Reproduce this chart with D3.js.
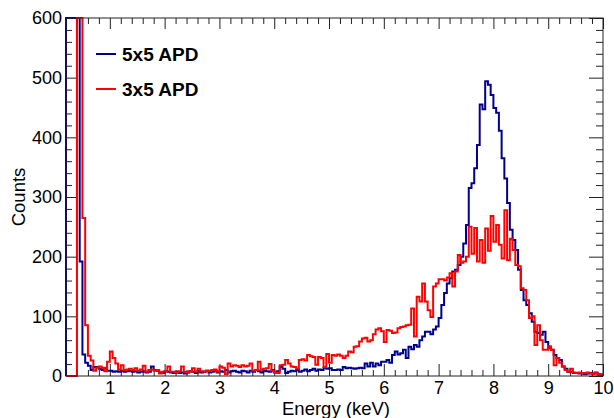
<!DOCTYPE html>
<html>
<head>
<meta charset="utf-8">
<script src="https://cdn.jsdelivr.net/npm/d3@7"></script>
<style>
  html, body { margin: 0; padding: 0; background: #fff; }
  svg text { font-family: "Liberation Sans", Arial, Helvetica, sans-serif; }
</style>
</head>
<body>
<svg id="chart" width="614" height="418"></svg>
<script>
// Energy spectra, 0.05 keV bins starting at 0.20 keV
const binWidth = 0.05;
const binLow = d3.range(196).map(i => +(0.2 + i * binWidth).toFixed(2));

// 5x5 APD counts per bin (rows of 1 keV)
const apd5x5 = [
  2400,2400,2400,2400,2400,192,36,22,17,10,15,15,12,10,13,9,9,7,8,7,
  9,7,8,9,7,8,6,7,8,6,7,16,10,9,6,5,8,7,6,5,
  7,5,6,4,6,8,7,5,8,6,7,9,6,7,9,6,8,7,10,6,
  8,9,7,6,9,8,6,9,7,10,8,6,9,8,7,10,6,8,15,12,
  5,7,9,8,10,7,9,11,8,10,12,9,11,10,14,12,13,10,10,11,
  10,15,13,14,13,12,13,14,13,21,16,22,16,21,18,24,24,27,22,35,
  41,36,38,44,30,49,45,52,49,60,66,74,74,70,78,83,97,119,139,155,
  164,175,178,186,200,222,253,315,323,348,387,455,447,494,488,471,449,441,411,365,
  331,290,245,228,211,178,144,127,119,105,91,74,72,69,74,57,47,44,35,30,
  27,16,12,7,7,5,5,4,4,3,4,5,4,6,3,2
];

// 3x5 APD counts per bin (rows of 1 keV)
const apd3x5 = [
  0,0,0,0,3000,3000,265,85,34,26,9,14,16,14,8,24,41,30,21,11,
  18,10,11,12,10,13,9,11,17,7,10,11,9,10,4,7,8,16,7,7,
  6,8,16,7,6,8,13,7,12,8,7,9,8,10,11,7,16,14,3,21,
  16,18,17,15,18,16,17,21,9,10,24,11,12,13,20,9,6,5,18,19,
  27,21,16,15,12,27,28,26,35,33,32,19,32,30,15,37,22,35,34,36,
  34,30,34,41,40,49,50,58,63,64,58,60,70,78,80,75,57,77,76,72,
  73,80,82,83,85,86,113,66,133,125,155,125,110,99,150,155,162,162,160,165,
  172,150,175,203,190,192,200,250,205,248,192,228,190,247,210,268,225,253,220,197,
  278,194,230,211,186,184,147,144,127,97,100,52,85,60,44,44,50,44,18,30,
  22,16,10,7,12,6,5,6,4,5,6,4,3,5,2,3
];

const seriesNames = ["5x5 APD", "3x5 APD"];
const seriesColors = ["#00008f", "#ff0000"];

const xMajorTicks = [1, 2, 3, 4, 5, 6, 7, 8, 9, 10];
const xMinorTicks = d3.range(1, 50).map(i => +(0.2 * i).toFixed(1)).filter(v => v > 0.2 && !Number.isInteger(v));
const yMajorTicks = [0, 100, 200, 300, 400, 500, 600];
const yMinorTicks = d3.range(0, 601, 20).filter(v => v % 100 !== 0);

const xTitle = "Energy (keV)";
const yTitle = "Counts";

// frame geometry
const L = 66, R = 603, T = 18, B = 376;

const svg = d3.select("#chart");
const x = d3.scaleLinear().domain([0.2, 10]).range([L, R]);
const y = d3.scaleLinear().domain([0, 600]).range([B, T]).clamp(true);

const axisColor = "#222";
const labelSize = 18;
const titleSize = 18.5;

function styleAxis(g) {
  g.select(".domain").remove();
  g.selectAll(".tick line").attr("stroke", axisColor).attr("stroke-width", 1);
  g.selectAll(".tick text").attr("fill", "#000").style("font-size", labelSize + "px");
}

// bottom axis: major with labels, minor without
svg.append("g").attr("transform", `translate(0,${B})`)
  .call(d3.axisBottom(x).tickValues(xMajorTicks).tickSize(-12).tickPadding(5).tickFormat(d3.format("d")))
  .call(styleAxis);
svg.append("g").attr("transform", `translate(0,${B})`)
  .call(d3.axisBottom(x).tickValues(xMinorTicks).tickSize(-6).tickFormat(""))
  .call(styleAxis);
// top axis ticks
svg.append("g").attr("transform", `translate(0,${T})`)
  .call(d3.axisTop(x).tickValues(xMajorTicks).tickSize(-11).tickFormat(""))
  .call(styleAxis);
svg.append("g").attr("transform", `translate(0,${T})`)
  .call(d3.axisTop(x).tickValues(xMinorTicks).tickSize(-6).tickFormat(""))
  .call(styleAxis);
// left axis
svg.append("g").attr("transform", `translate(${L},0)`)
  .call(d3.axisLeft(y).tickValues(yMajorTicks).tickSize(-10).tickPadding(4).tickFormat(d3.format("d")))
  .call(styleAxis);
svg.append("g").attr("transform", `translate(${L},0)`)
  .call(d3.axisLeft(y).tickValues(yMinorTicks).tickSize(-6).tickFormat(""))
  .call(styleAxis);
// right axis ticks
svg.append("g").attr("transform", `translate(${R},0)`)
  .call(d3.axisRight(y).tickValues(yMajorTicks).tickSize(-14).tickFormat(""))
  .call(styleAxis);
svg.append("g").attr("transform", `translate(${R},0)`)
  .call(d3.axisRight(y).tickValues(yMinorTicks).tickSize(-7).tickFormat(""))
  .call(styleAxis);

// histogram outlines
const stepLine = d3.line().x(d => x(d[0])).y(d => y(d[1])).curve(d3.curveStepAfter);
function histPoints(values) {
  const pts = [[binLow[0], 0]];
  values.forEach((v, i) => pts.push([binLow[i], v]));
  pts.push([10, values[values.length - 1]]);
  pts.push([10, 0]);
  return pts;
}
svg.append("clipPath").attr("id", "frameClip")
  .append("rect").attr("x", L - 1).attr("y", T - 1).attr("width", R - L + 2).attr("height", B - T + 2);

[apd5x5, apd3x5].forEach((vals, k) => {
  svg.append("path")
    .attr("d", stepLine(histPoints(vals)))
    .attr("fill", "none")
    .attr("stroke", seriesColors[k])
    .attr("stroke-width", 2)
    .attr("clip-path", "url(#frameClip)");
});

// frame
svg.append("rect").attr("x", L).attr("y", T).attr("width", R - L).attr("height", B - T)
  .attr("fill", "none").attr("stroke", axisColor).attr("stroke-width", 1);

// axis titles
svg.append("text").attr("x", 336).attr("y", 414.5).attr("text-anchor", "middle")
  .style("font-size", titleSize + "px").text(xTitle);
svg.append("text").attr("transform", `translate(25,${(T + B) / 2}) rotate(-90)`)
  .attr("text-anchor", "middle").style("font-size", titleSize + "px").text(yTitle);

// legend
const legend = svg.append("g");
seriesNames.forEach((name, k) => {
  const ly = 54 + k * 35;
  legend.append("line").attr("x1", 96).attr("x2", 116).attr("y1", ly).attr("y2", ly)
    .attr("stroke", seriesColors[k]).attr("stroke-width", 2);
  legend.append("text").attr("x", 122).attr("y", ly).attr("dy", "0.35em")
    .style("font-size", "19px").style("font-weight", "bold").text(name);
});
</script>
</body>
</html>
